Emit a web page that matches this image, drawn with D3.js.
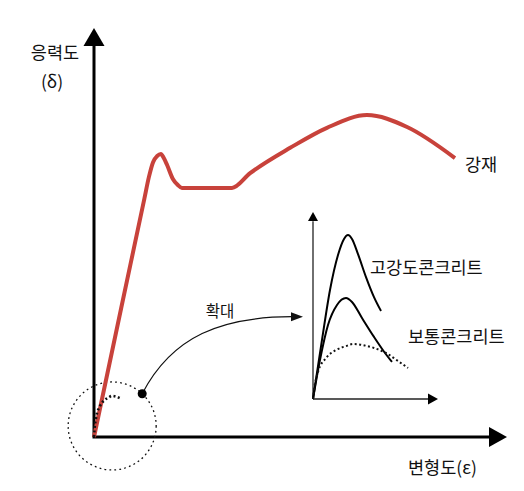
<!DOCTYPE html>
<html>
<head>
<meta charset="utf-8">
<script src="https://cdn.jsdelivr.net/npm/d3@7"></script>
<style>
  body { margin: 0; background: #fff; }
  text { font-family: "Noto Sans CJK KR", "Noto Sans", sans-serif; fill: #111; }
</style>
</head>
<body>
<div id="chart"></div>
<script>
// steel stress-strain curve (main axes, 0..100 units)
const steelStrain = [0, 6.6, 12.2, 13.3, 14.3, 15.3, 16.2, 16.9, 17.7, 19.1, 20.3, 21.3, 27.4, 33.4, 37.8, 47.5, 56.4, 66.1, 75.8, 87.4];
const steelStress = [0, 31.6, 58.3, 63.6, 67.2, 68.7, 69.2, 68.2, 66.5, 63.1, 61.6, 60.9, 60.9, 60.9, 64.5, 70.7, 75.6, 78.7, 75.8, 68.2];

// concrete curves (inset axes, 0..100 units)
const highStrain = [0, 7.2, 13.6, 20, 24.8, 28, 31.2, 36, 42.4, 48.8, 54.4];
const highStress = [0, 31.6, 58.3, 77, 85.6, 87.7, 85.6, 77.5, 65.2, 54.5, 47.1];
const normalStrain = [0, 5.6, 12, 19.2, 26.4, 31.2, 39.2, 48.8, 57.6, 63.2];
const normalStress = [0, 20.9, 39.6, 50.3, 54, 51.9, 43.3, 33.2, 24.6, 19.8];
const lowStrain = [0, 0.8, 4, 10.4, 18.4, 26.4, 32, 39.2, 48.8, 58.4, 68, 76];
const lowStress = [0, 4.8, 14.4, 21.9, 26.2, 28.3, 29.4, 28.9, 27.3, 24.6, 20.3, 16.6];

const labels = {
  yAxis: ['응력도', '(δ)'],
  xAxis: '변형도(ε)',
  steel: '강재',
  high: '고강도콘크리트',
  normal: '보통콘크리트',
  zoom: '확대'
};

const width = 524, height = 491;
const zip = (xs, ys) => xs.map((x, i) => [x, ys[i]]);

const svg = d3.select('#chart').append('svg')
  .attr('width', width)
  .attr('height', height);

// main scales
const x = d3.scaleLinear().domain([0, 100]).range([94, 507]);
const y = d3.scaleLinear().domain([0, 100]).range([437, 28]);

// inset scales
const xi = d3.scaleLinear().domain([0, 100]).range([313, 438]);
const yi = d3.scaleLinear().domain([0, 100]).range([399, 212]);

// tiny copy of the dotted curve inside the magnifier circle
const xm = d3.scaleLinear().domain([0, 100]).range([94, 150]);
const ym = d3.scaleLinear().domain([0, 100]).range([437, 297]);

// main axes
svg.append('line')
  .attr('x1', x(0)).attr('y1', y(0)).attr('x2', x(0)).attr('y2', y(96))
  .attr('stroke', '#000').attr('stroke-width', 3);
svg.append('path')
  .attr('d', `M${x(0)},${y(100)}L${x(0) - 10.5},${y(100) + 18}L${x(0) + 10.5},${y(100) + 18}Z`)
  .attr('fill', '#000');
svg.append('line')
  .attr('x1', x(0) - 1.5).attr('y1', y(0)).attr('x2', x(96)).attr('y2', y(0))
  .attr('stroke', '#000').attr('stroke-width', 3);
svg.append('path')
  .attr('d', `M${x(100)},${y(0)}L${x(100) - 18},${y(0) - 10}L${x(100) - 18},${y(0) + 10}Z`)
  .attr('fill', '#000');

// magnifier circle
const circ = { cx: x(4.4), cy: y(2.7), r: 44 };
svg.append('circle')
  .attr('cx', circ.cx).attr('cy', circ.cy).attr('r', circ.r)
  .attr('fill', 'none').attr('stroke', '#111').attr('stroke-width', 1.3)
  .attr('stroke-dasharray', '1.8,3.2');

// steel curve
const mainLine = d3.line()
  .x(d => x(d[0])).y(d => y(d[1]))
  .curve(d3.curveMonotoneX);
svg.append('path')
  .datum(zip(steelStrain, steelStress))
  .attr('d', mainLine)
  .attr('fill', 'none')
  .attr('stroke', '#c8423b')
  .attr('stroke-width', 4)
  .attr('stroke-linejoin', 'round');

// small dotted curve in circle
svg.append('path')
  .datum(zip(lowStrain, lowStress).filter(d => d[0] <= 49))
  .attr('d', d3.line()
    .x(d => xm(d[0]))
    .y(d => ym(d[1]))
    .curve(d3.curveMonotoneX))
  .attr('fill', 'none')
  .attr('stroke', '#111')
  .attr('stroke-width', 2.6)
  .attr('stroke-dasharray', '2,2.5');

// zoom arrow: dot on circle -> inset
const ang = -47 * Math.PI / 180;
const dot = [circ.cx + circ.r * Math.cos(ang), circ.cy + circ.r * Math.sin(ang)];
const tip = [xi(-8), yi(44)];
svg.append('path')
  .attr('d', `M${dot[0]},${dot[1]}C${dot[0] + 30},${dot[1] - 58} ${dot[0] + 80},${tip[1]} ${tip[0] - 11},${tip[1]}`)
  .attr('fill', 'none').attr('stroke', '#111').attr('stroke-width', 1.2);
svg.append('path')
  .attr('d', `M${tip[0]},${tip[1]}L${tip[0] - 12},${tip[1] - 4.5}L${tip[0] - 12},${tip[1] + 4.5}Z`)
  .attr('fill', '#111');
svg.append('circle')
  .attr('cx', dot[0]).attr('cy', dot[1]).attr('r', 4.5)
  .attr('fill', '#000');
svg.append('text')
  .attr('x', 220).attr('y', 317)
  .attr('text-anchor', 'middle')
  .style('font-size', '15.5px')
  .text(labels.zoom);

// inset axes
svg.append('line')
  .attr('x1', xi(0)).attr('y1', yi(0)).attr('x2', xi(0)).attr('y2', yi(95))
  .attr('stroke', '#222').attr('stroke-width', 1.3);
svg.append('path')
  .attr('d', `M${xi(0)},${yi(100)}L${xi(0) - 5},${yi(100) + 9}L${xi(0) + 5},${yi(100) + 9}Z`)
  .attr('fill', '#000');
svg.append('line')
  .attr('x1', xi(0)).attr('y1', yi(0)).attr('x2', xi(93)).attr('y2', yi(0))
  .attr('stroke', '#222').attr('stroke-width', 1.3);
svg.append('path')
  .attr('d', `M${xi(100)},${yi(0)}L${xi(100) - 10},${yi(0) - 5.5}L${xi(100) - 10},${yi(0) + 5.5}Z`)
  .attr('fill', '#000');

const insetLine = d3.line()
  .x(d => xi(d[0])).y(d => yi(d[1]))
  .curve(d3.curveMonotoneX);

svg.append('path')
  .datum(zip(highStrain, highStress))
  .attr('d', insetLine)
  .attr('fill', 'none').attr('stroke', '#000').attr('stroke-width', 2);
svg.append('path')
  .datum(zip(normalStrain, normalStress))
  .attr('d', insetLine)
  .attr('fill', 'none').attr('stroke', '#000').attr('stroke-width', 2);
svg.append('path')
  .datum(zip(lowStrain, lowStress))
  .attr('d', insetLine)
  .attr('fill', 'none').attr('stroke', '#111').attr('stroke-width', 2)
  .attr('stroke-dasharray', '2,2.5');

// labels
const fs = '17.5px';
svg.append('text')
  .attr('x', 55).attr('y', 59)
  .attr('text-anchor', 'middle')
  .style('font-size', fs)
  .text(labels.yAxis[0]);
svg.append('text')
  .attr('x', 52).attr('y', 88)
  .attr('text-anchor', 'middle')
  .style('font-size', fs)
  .text(labels.yAxis[1]);
svg.append('text')
  .attr('x', 408).attr('y', 474)
  .style('font-size', fs)
  .text(labels.xAxis);
svg.append('text')
  .attr('x', 465).attr('y', 171)
  .style('font-size', fs)
  .text(labels.steel);
svg.append('text')
  .attr('x', 370).attr('y', 274)
  .style('font-size', fs)
  .text(labels.high);
svg.append('text')
  .attr('x', 408).attr('y', 343)
  .style('font-size', fs)
  .text(labels.normal);
</script>
</body>
</html>
